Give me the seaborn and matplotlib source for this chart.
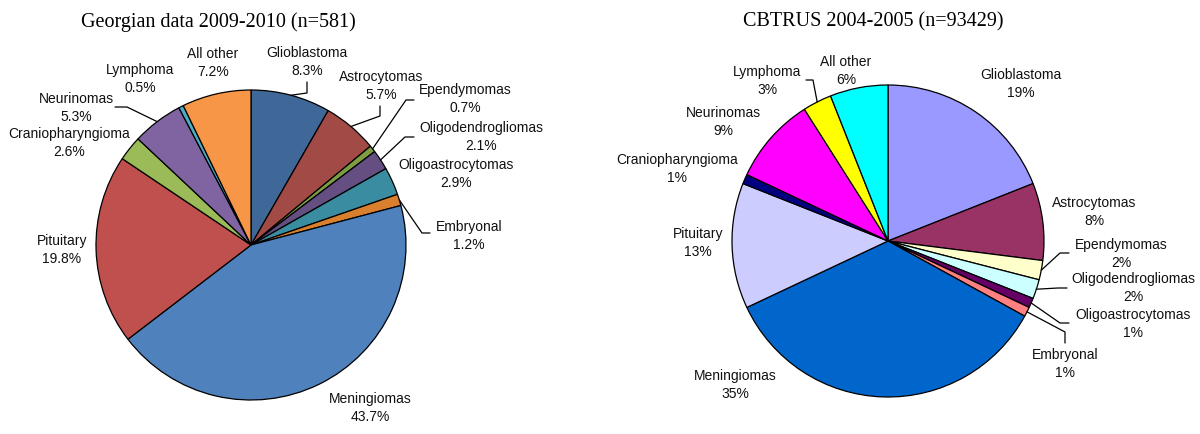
import numpy as np
import seaborn as sns
import matplotlib.pyplot as plt

# tumour groups, in drawing order (clockwise from 12 o'clock)
categories = ["Glioblastoma", "Astrocytomas", "Ependymomas", "Oligodendrogliomas",
              "Oligoastrocytomas", "Embryonal", "Meningiomas", "Pituitary",
              "Craniopharyngioma", "Neurinomas", "Lymphoma", "All other"]
georgian_pct = [8.3, 5.7, 0.7, 2.1, 2.9, 1.2, 43.7, 19.8, 2.6, 5.3, 0.5, 7.2]
cbtrus_pct = [19, 8, 2, 2, 1, 1, 35, 13, 1, 9, 3, 6]

georgian_title = "Georgian data 2009-2010 (n=581)"
cbtrus_title = "CBTRUS 2004-2005 (n=93429)"

georgian_colors = ["#3F6797", "#A24A46", "#7E9D42", "#654E82", "#3A8DA1", "#D9802F",
                   "#4F81BD", "#C0504D", "#9BBB59", "#8064A2", "#4BACC6", "#F79646"]
cbtrus_colors = ["#9999FF", "#993366", "#FFFFCC", "#CCFFFF", "#660066", "#FF8080",
                 "#0066CC", "#CCCCFF", "#000080", "#FF00FF", "#FFFF00", "#00FFFF"]

W, H = 1200, 434

# layout in pixel space (y from top): pie centre, radius, label centres, leader elbows
left_layout = dict(center=(251, 245), radius=155, title_xy=(218, 22), labels=[
    (307, 62), (381, 86), (465, 99), (481, 137), (456, 174), (469, 236),
    (370, 408), (62, 250), (69, 143), (76, 108), (140, 79), (213, 63)],
    leaders={0: [(307, 93), (307, 82)], 1: [(380, 116), (380, 106)],
             2: [(406, 100), (414, 100)], 3: [(405, 137), (414, 137)],
             5: [(422, 233), (430, 233)], 9: [(127, 107), (115, 107)]})
right_layout = dict(center=(888, 241), radius=156, title_xy=(873, 22), labels=[
    (1021, 84), (1094, 212), (1121, 254), (1133, 288), (1133, 324), (1065, 364),
    (735, 385), (698, 243), (677, 169), (723, 122), (767, 81), (846, 71)],
    leaders={2: [(1060, 253), (1069, 253)], 3: [(1058, 288), (1067, 288)],
             4: [(1060, 323), (1069, 323)], 5: [(1065, 332), (1065, 343)],
             10: [(813, 80), (806, 80)]})

sns.set_theme(style="white")
plt.rcParams['font.family'] = ['Liberation Sans', 'DejaVu Sans']

fig = plt.figure(figsize=(W / 100, H / 100), dpi=100)
ax = fig.add_axes([0, 0, 1, 1])


def draw_pie(values, colors, title, layout, fmt):
    cx, cy = layout["center"]
    cy = H - cy
    r = layout["radius"]
    ax.pie(values, colors=sns.color_palette(colors), startangle=90, counterclock=False,
           center=(cx, cy), radius=r,
           wedgeprops=dict(edgecolor="black", linewidth=0.9))
    vals = np.array(values, dtype=float)
    frac = vals / vals.sum()
    mids = 90 - 360 * (np.cumsum(frac) - frac / 2)
    for i, (name, v) in enumerate(zip(categories, values)):
        lx, ly = layout["labels"][i]
        ax.text(lx, H - ly, f"{name}\n{fmt.format(v)}", ha="center", va="center",
                fontsize=10, linespacing=1.45, color="#111111")
        if i in layout["leaders"]:
            a = np.deg2rad(mids[i])
            xs = [cx + r * np.cos(a)] + [p[0] for p in layout["leaders"][i]]
            ys = [cy + r * np.sin(a)] + [H - p[1] for p in layout["leaders"][i]]
            ax.plot(xs, ys, color="black", lw=0.9)
    tx, ty = layout["title_xy"]
    ax.text(tx, H - ty, title, ha="center", va="center", fontsize=14.5,
            family=["Liberation Serif", "DejaVu Serif"], color="black")


draw_pie(georgian_pct, georgian_colors, georgian_title, left_layout, "{:.1f}%")
draw_pie(cbtrus_pct, cbtrus_colors, cbtrus_title, right_layout, "{:.0f}%")

ax.set_xlim(0, W)
ax.set_ylim(0, H)
ax.set_aspect("auto")
ax.axis("off")

fig.savefig("out.png", dpi=100, facecolor="white")
